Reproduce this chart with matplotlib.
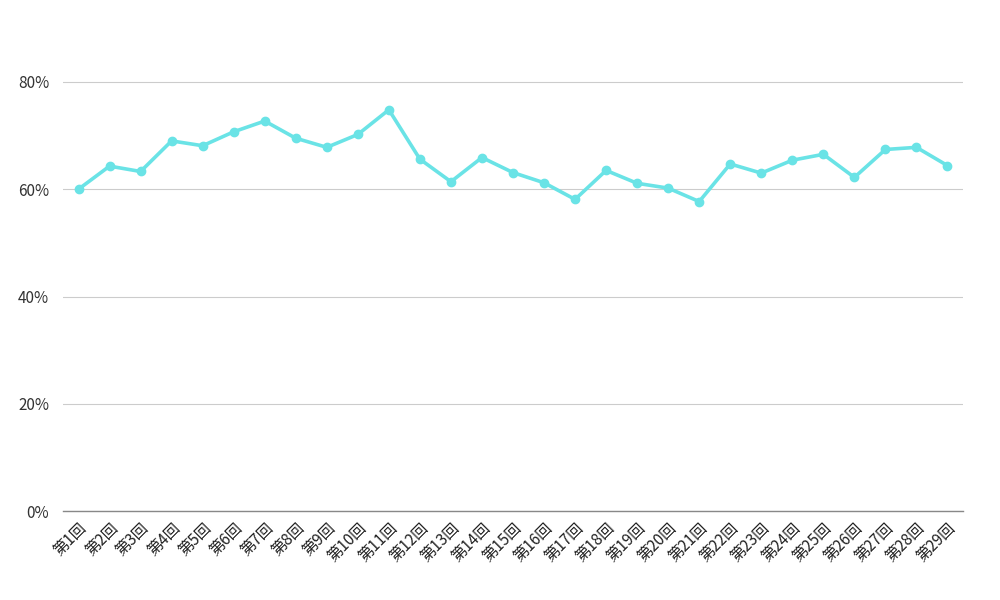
import matplotlib
matplotlib.use("Agg")
import matplotlib.pyplot as plt
from matplotlib.ticker import FuncFormatter

plt.rcParams['font.family'] = ['Noto Sans CJK JP', 'DejaVu Sans']

labels = [f"第{i}回" for i in range(1, 30)]
values = [60.0, 64.3, 63.3, 69.0, 68.1, 70.7, 72.7, 69.5, 67.8, 70.2,
          74.8, 65.6, 61.4, 65.9, 63.1, 61.2, 58.1, 63.5, 61.1, 60.2,
          57.7, 64.7, 63.0, 65.4, 66.5, 62.2, 67.4, 67.8, 64.4]
yticks = [0, 20, 40, 60, 80]

fig = plt.figure(figsize=(10, 6), dpi=100)
ax = fig.add_axes([0.063, 0.148, 0.900, 0.805])

x = list(range(len(labels)))
ax.plot(x, values, color='#6ae3e6', linewidth=2.6, marker='o', markersize=6,
        solid_joinstyle='round', zorder=3)

ax.set_xlim(-0.5, len(labels) - 0.5)
ax.set_ylim(0, 90)
ax.set_yticks(yticks)
ax.yaxis.set_major_formatter(FuncFormatter(lambda v, p: f"{v:.0f}%"))
ax.grid(axis='y', color='#cccccc', linewidth=0.8)
ax.set_axisbelow(True)

ax.set_xticks(x)
ax.set_xticklabels(labels, rotation=45, ha='right', va='top',
                   rotation_mode='anchor', fontsize=11, color='#222222')
for lab in ax.get_yticklabels():
    lab.set_fontsize(11)
    lab.set_color('#333333')
ax.tick_params(axis='both', length=0)
ax.tick_params(axis='x', pad=6)
ax.tick_params(axis='y', pad=10)

for s in ['top', 'right', 'left']:
    ax.spines[s].set_visible(False)
ax.spines['bottom'].set_color('#888888')
ax.spines['bottom'].set_linewidth(1)

fig.savefig('out.png', dpi=100)
